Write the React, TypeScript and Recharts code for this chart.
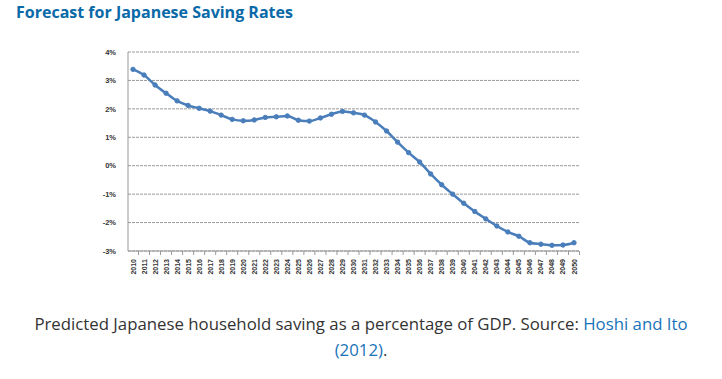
import { LineChart, Line, XAxis, YAxis, CartesianGrid } from 'recharts';

const years = [
  '2010', '2011', '2012', '2013', '2014', '2015', '2016', '2017', '2018', '2019',
  '2020', '2021', '2022', '2023', '2024', '2025', '2026', '2027', '2028', '2029',
  '2030', '2031', '2032', '2033', '2034', '2035', '2036', '2037', '2038', '2039',
  '2040', '2041', '2042', '2043', '2044', '2045', '2046', '2047', '2048', '2049', '2050'
];

const savingRate = [
  3.39, 3.19, 2.84, 2.55, 2.28, 2.12, 2.02, 1.92, 1.78, 1.63,
  1.58, 1.61, 1.7, 1.72, 1.75, 1.6, 1.57, 1.68, 1.81, 1.91,
  1.86, 1.78, 1.54, 1.22, 0.83, 0.46, 0.13, -0.29, -0.67, -1.0,
  -1.32, -1.61, -1.87, -2.12, -2.33, -2.48, -2.71, -2.76, -2.8, -2.79, -2.71
];

const yTicks = [-3, -2, -1, 0, 1, 2, 3, 4];

const data = years.map((year, i) => ({ year, rate: savingRate[i] }));

function YearTick(props: any) {
  const { x, y, payload } = props;
  return (
    <g>
      <line x1={x + 5.5} y1={y - 8} x2={x + 5.5} y2={y - 4} stroke="#999" />
      <text
        x={x}
        y={y}
        transform={`rotate(-90, ${x}, ${y})`}
        textAnchor="end"
        dy={2.5}
        fontSize={7}
        fontWeight="bold"
        fill="#333"
        fontFamily="Arial, 'Liberation Sans', sans-serif"
      >
        {payload.value}
      </text>
    </g>
  );
}

export default function App() {
  return (
    <div style={{ position: 'absolute', left: 0, top: 0, width: 722, height: 379, background: '#fff' }}>
      <div
        style={{
          position: 'absolute',
          left: 16,
          top: 0,
          fontFamily: "'Open Sans', sans-serif",
          fontWeight: 700,
          fontSize: 16,
          color: '#0a6aa8',
          lineHeight: '24px'
        }}
      >
        Forecast for Japanese Saving Rates
      </div>
      <div style={{ position: 'absolute', left: 100, top: 40 }}>
        <LineChart width={500} height={250} data={data} margin={{ top: 12, right: 21, left: 0, bottom: 9 }}>
          <CartesianGrid vertical={false} stroke="#999" strokeDasharray="3 1" />
          <XAxis
            dataKey="year"
            interval={0}
            height={30}
            padding={{ left: 5, right: 5 }}
            tick={<YearTick />}
            tickLine={false}
            axisLine={{ stroke: '#999' }}
          />
          <YAxis
            width={28}
            domain={[-3, 4]}
            ticks={yTicks}
            tickFormatter={(v: number) => `${v}%`}
            tick={{ fontSize: 7.5, fontWeight: 'bold', fill: '#333', fontFamily: "Arial, 'Liberation Sans', sans-serif" }}
            tickLine={false}
            axisLine={{ stroke: '#999' }}
            tickMargin={6}
          />
          <YAxis yAxisId="right" orientation="right" width={0} tick={false} tickLine={false} axisLine={{ stroke: '#999' }} />
          <Line
            type="monotone"
            dataKey="rate"
            stroke="#4a7ebb"
            strokeWidth={2.5}
            dot={{ r: 2.2, fill: '#4a7ebb', stroke: '#4a7ebb', strokeWidth: 1 }}
            isAnimationActive={false}
          />
        </LineChart>
      </div>
      <div
        style={{
          position: 'absolute',
          left: 0,
          top: 311,
          width: 722,
          textAlign: 'center',
          fontFamily: "'Open Sans', sans-serif",
          fontSize: 16.8,
          lineHeight: '26px',
          color: '#333'
        }}
      >
        Predicted Japanese household saving as a percentage of GDP. Source:{' '}
        <span style={{ color: '#1a73b8' }}>Hoshi and Ito</span>
        <br />
        <span style={{ color: '#1a73b8' }}>(2012)</span>.
      </div>
    </div>
  );
}
